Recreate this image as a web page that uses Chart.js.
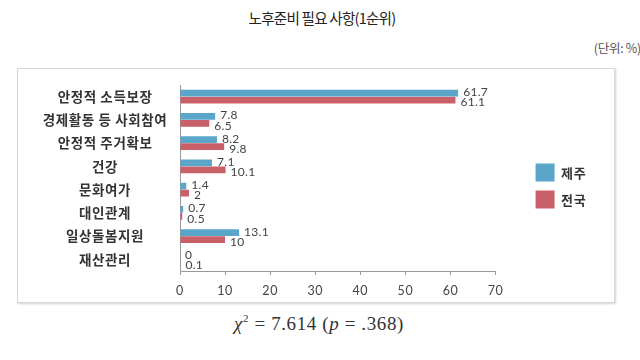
<!DOCTYPE html>
<html>
<head>
<meta charset="utf-8">
<script src="https://cdn.jsdelivr.net/npm/chart.js@4/dist/chart.umd.min.js"></script>
<style>
  html, body { margin: 0; padding: 0; background: #fff; }
  #wrap { position: relative; width: 640px; height: 360px; overflow: hidden; }
  #title { position: absolute; left: 0; width: 644px; top: 7px; text-align: center;
    font-family: "Noto Sans CJK KR", sans-serif; font-size: 14.6px; color: #222; letter-spacing: -0.8px; }
  #unit { position: absolute; right: -1px; top: 38px; font-family: "Noto Sans CJK KR", sans-serif;
    font-size: 12.5px; color: #555; letter-spacing: -0.3px; }
  #box { position: absolute; left: 17px; top: 68px; width: 596px; height: 233px;
    border: 1px solid #d6d6d6; box-shadow: 1px 1px 2px rgba(0,0,0,0.18); }
  #chi { position: absolute; left: 0; width: 638px; top: 312px; text-align: center;
    font-family: "Liberation Serif", "DejaVu Serif", serif; font-size: 19px; color: #333; letter-spacing: 0.6px; }
  #chi sup { font-size: 11px; vertical-align: 8px; }
  canvas { position: absolute; left: 0; top: 0; }
</style>
</head>
<body>
<div id="wrap">
  <div id="title">노후준비 필요 사항(1순위)</div>
  <div id="unit">(단위: %)</div>
  <div id="box"></div>
  <div id="chi"><i>χ</i><sup>2</sup> = 7.614 (<i>p</i> = .368)</div>
  <canvas id="c" width="640" height="360"></canvas>
</div>
<script>
const categories = ['안정적 소득보장', '경제활동 등 사회참여', '안정적 주거확보', '건강', '문화여가', '대인관계', '일상돌봄지원', '재산관리'];
const jejuValues = [61.7, 7.8, 8.2, 7.1, 1.4, 0.7, 13.1, 0];
const nationalValues = [61.1, 6.5, 9.8, 10.1, 2, 0.5, 10, 0.1];
const seriesNames = ['제주', '전국'];
const xTicks = [0, 10, 20, 30, 40, 50, 60, 70];

const spacing = {
  id: 'spacing',
  beforeDraw(chart) { chart.ctx.letterSpacing = '0.6px'; },
  beforeDatasetsDraw(chart) { chart.ctx.letterSpacing = '0px'; }
};

const valueLabels = {
  id: 'valueLabels',
  afterDatasetsDraw(chart) {
    const ctx = chart.ctx;
    ctx.save();
    ctx.letterSpacing = '0.3px';
    ctx.font = '12px Lato, "Noto Sans", sans-serif';
    ctx.fillStyle = '#444';
    ctx.textAlign = 'left';
    ctx.textBaseline = 'middle';
    chart.data.datasets.forEach((ds, di) => {
      const meta = chart.getDatasetMeta(di);
      meta.data.forEach((el, i) => {
        const off = di === 0 ? -1 : 2.5;
        ctx.fillText(String(ds.data[i]), el.x + 5, el.y + off);
      });
    });
    ctx.restore();
  }
};

new Chart(document.getElementById('c'), {
  type: 'bar',
  data: {
    labels: categories,
    datasets: [
      { label: seriesNames[0], data: jejuValues, backgroundColor: '#5aa6c9', borderWidth: 0,
        categoryPercentage: 0.6, barPercentage: 0.95 },
      { label: seriesNames[1], data: nationalValues, backgroundColor: '#c95f69', borderWidth: 0,
        categoryPercentage: 0.6, barPercentage: 0.95 }
    ]
  },
  options: {
    indexAxis: 'y',
    responsive: false,
    animation: false,
    layout: { padding: { left: 0, right: 45, top: 85, bottom: 0 } },
    scales: {
      x: {
        min: 0, max: 70,
        afterBuildTicks(s) { s.ticks = xTicks.map(v => ({ value: v })); },
        afterFit(s) { s.height = 89; },
        grid: { display: true, drawOnChartArea: false, drawTicks: true, tickLength: 4, color: '#999' },
        border: { display: true, color: '#999', width: 1 },
        ticks: { padding: 8, color: '#444', font: { family: 'Lato, "Noto Sans", sans-serif', size: 12.5 } }
      },
      y: {
        afterFit(s) { s.width = 180; },
        grid: { display: false },
        border: { display: true, color: '#999', width: 1 },
        ticks: { padding: 8, crossAlign: 'center', color: '#333',
          font: { family: '"Noto Sans CJK KR", sans-serif', size: 13.5, weight: 'bold' } }
      },
      yr: {
        type: 'category', axis: 'y', position: 'right', labels: categories,
        afterFit(s) { s.width = 31; },
        grid: { display: false }, border: { display: false }, ticks: { display: false }
      }
    },
    plugins: {
      legend: {
        position: 'right', align: 'center', fullSize: false,
        title: { display: true, text: ' ', font: { size: 1 }, padding: { top: 0, bottom: 15 } },
        labels: { boxWidth: 19, boxHeight: 18, padding: 9, color: '#333',
          font: { family: '"Noto Sans CJK KR", sans-serif', size: 13, weight: 'bold' } }
      },
      tooltip: { enabled: false }
    }
  },
  plugins: [spacing, valueLabels]
});
</script>
</body>
</html>
